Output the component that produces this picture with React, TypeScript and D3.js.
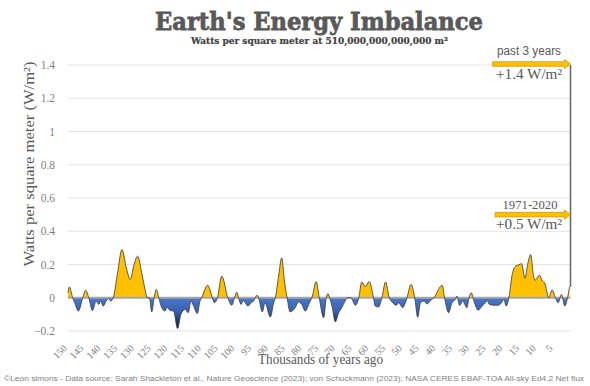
import React from "react";
import * as d3 from "d3";

const kaValues: number[] = [
  150, 149.6, 148.6, 148, 146.9, 145.6, 144.7, 143.8, 142.7, 141.6, 140.8, 140.2, 139.5, 138.5, 137.8, 137.3, 136.5,
  135.2, 133.9, 132.6, 131.4, 130.3, 129.2, 128, 127, 126.3, 125.7, 125, 124.3, 123.6, 122.9, 122, 121, 120.5, 119.5,
  118.5, 117.3, 116.3, 115, 114.1, 113.3, 112.6, 111.4, 110.6, 110.1, 108.3, 106.9, 106.3, 105.4, 104.1, 102.3, 101.1,
  100.3, 99.6, 99.1, 98.3, 97.7, 97.1, 96.3, 95.3, 94.6, 94.1, 93.6, 93.1, 92, 91.2, 89.6, 88.6, 88.1, 87.2, 86.2,
  85.4, 84.6, 83.7, 82.2, 81.2, 80.2, 79.2, 77.7, 77.2, 75.9, 75, 73.7, 72.9, 72.4, 71.9, 71.2, 70.2, 69.2, 68.3,
  67.3, 66.6, 65.6, 64.2, 63.2, 62.3, 61.3, 60.1, 58.8, 58.3, 57.3, 56.3, 55.2, 54.1, 53.3, 52, 51.3, 50.1, 49.3,
  48.8, 47.6, 46.5, 45.6, 44.8, 43.8, 42.8, 41.8, 40.8, 38.3, 37.6, 36.4, 35.4, 34.4, 33.9, 33.1, 32.2, 30.9, 30.4,
  29.6, 29.1, 28.4, 27.6, 26.4, 25.4, 24.9, 24.2, 22.9, 21.6, 20.6, 19.9, 19.2, 18.4, 17.4, 16.4, 15.4, 14.6, 13.6,
  12.8, 11.9, 11.1, 10.6, 9.3, 8.3, 7.7, 6.5, 5.5, 4.5, 3.7, 2.7, 1.7, 1.0, 0.3,
];

const imbalance: number[] = [
  0.03, 0.065, 0, -0.03, -0.08, 0, 0.045, 0, -0.077, -0.02, -0.04, -0.02, -0.05, -0.016, -0.005, -0.02, 0,
  0.15, 0.29, 0.18, 0.11, 0.2, 0.25, 0.15, 0.05, 0, 0, -0.085, 0, 0.05, 0, -0.06, -0.08, -0.057, -0.077,
  -0.08, -0.185, -0.1, -0.07, -0.09, -0.02, -0.045, -0.095, -0.02, 0, 0.075, 0, -0.03, 0, 0.13, 0, -0.045,
  0, 0.033, 0, -0.04, -0.016, -0.03, -0.05, -0.03, -0.02, 0, 0.015, 0, -0.085, -0.03, -0.116, -0.03, 0, 0.12, 0.24,
  0.1, 0, -0.085, -0.06, -0.025, -0.04, -0.08, -0.02, 0, 0.097, 0, -0.12, 0, 0.025, 0, -0.05, -0.145, -0.09, -0.06,
  -0.02, 0, 0, -0.045, 0, 0.095, 0.067, 0.097, 0, -0.05, -0.055, 0, 0.095, 0, -0.025, -0.045, -0.03, -0.06, -0.03,
  0, 0.08, 0, -0.117, -0.03, -0.02, -0.037, -0.016, 0, 0.075, 0, -0.09, -0.03, -0.01, 0.01, -0.047, -0.02, -0.06, -0.01,
  0.03, 0, -0.045, -0.075, -0.05, -0.03, -0.016, -0.04, -0.045, -0.045, -0.03, -0.01, -0.05, 0, 0.14, 0.19, 0.198, 0.205, 0.117,
  0.2, 0.26, 0.14, 0.105, 0.135, 0.1, 0.09, 0, 0.047, 0, -0.03, 0.02, -0.05, -0.01, 0.065,
];

const yTicks: number[] = [-0.2, 0, 0.2, 0.4, 0.6, 0.8, 1, 1.2, 1.4];
const xTicks: number[] = d3.range(150, 0, -5);

const recentLabel = "past 3 years";
const recentValue = 1.4;
const recentText = "+1.4 W/m²";
const periodLabel = "1971-2020";
const periodValue = 0.5;
const periodText = "+0.5 W/m²";

const W = 590;
const H = 386;
const grey = "#595959";

export default function App() {
  const x = d3.scaleLinear().domain([150, 0]).range([68, 570.5]);
  const y = d3.scaleLinear().domain([-0.2, 1.4]).range([331, 65]);
  const data = kaValues.map((k, i) => ({ k, v: imbalance[i] }));
  const y0 = y(0);

  const area = d3
    .area<{ k: number; v: number }>()
    .x((d) => x(d.k))
    .y0(y0)
    .y1((d) => y(d.v))
    .curve(d3.curveMonotoneX);
  const line = d3
    .line<{ k: number; v: number }>()
    .x((d) => x(d.k))
    .y((d) => y(d.v))
    .curve(d3.curveMonotoneX);

  const areaD = area(data) || "";
  const lineD = line(data) || "";
  const last = data[data.length - 1];

  const arrow = (x0: number, x1: number, yc: number) => {
    const bh = 2.3;
    const hh = 4.6;
    const hl = 6;
    return `M${x0},${yc - bh}L${x1 - hl},${yc - bh}L${x1 - hl},${yc - hh}L${x1},${yc}L${x1 - hl},${yc + hh}L${x1 - hl},${yc + bh}L${x0},${yc + bh}Z`;
  };

  const serif = "'Liberation Serif', 'DejaVu Serif', serif";

  return (
    <svg width={W} height={H} style={{ position: "absolute", left: 0, top: 0, background: "#fff" }}>
      <defs>
        <clipPath id="posClip">
          <rect x={0} y={0} width={W} height={y0} />
        </clipPath>
        <clipPath id="negClip">
          <rect x={0} y={y0} width={W} height={H - y0} />
        </clipPath>
        <linearGradient id="blueGrad" gradientUnits="userSpaceOnUse" x1={0} y1={y0} x2={0} y2={y(-0.19)}>
          <stop offset="0" stopColor="#4a78cc" />
          <stop offset="0.45" stopColor="#3560ad" />
          <stop offset="0.75" stopColor="#1b3468" />
          <stop offset="1" stopColor="#050a18" />
        </linearGradient>
      </defs>

      {/* title */}
      <text x={319} y={30} textAnchor="middle" fontFamily="'DejaVu Serif', serif" fontWeight="bold" fontSize={25} fill={grey} stroke={grey} strokeWidth={0.8} textLength={328} lengthAdjust="spacingAndGlyphs">
        Earth's Energy Imbalance
      </text>
      <text x={319.5} y={43.5} textAnchor="middle" fontFamily="'DejaVu Serif', serif" fontWeight="bold" fontSize={9.5} fill="#404040" stroke="#404040" strokeWidth={0.2} textLength={257} lengthAdjust="spacingAndGlyphs">
        Watts per square meter at 510,000,000,000,000 m²
      </text>

      {/* gridlines */}
      {yTicks.filter((t) => t !== 0).map((t) => (
        <line key={t} x1={68} x2={570.5} y1={y(t)} y2={y(t)} stroke="#e3e3e3" strokeWidth={1} />
      ))}

      {/* y tick labels */}
      {yTicks.map((t) => (
        <text key={t} x={55} y={y(t) + 4} textAnchor="end" fontFamily={serif} fontSize={11.5} fill="#7f7f7f">
          {d3.format("~g")(t)}
        </text>
      ))}

      {/* y title */}
      <g transform="translate(34,164) rotate(-90)">
        <text x={0} y={0} textAnchor="middle" fontFamily={serif} fontSize={15} fill={grey} textLength={205} lengthAdjust="spacingAndGlyphs">
          Watts per square meter (W/m²)
        </text>
      </g>

      {/* areas */}
      <path d={areaD} fill="#FFC000" clipPath="url(#posClip)" />
      <path d={areaD} fill="url(#blueGrad)" clipPath="url(#negClip)" />
      <line x1={68} x2={570.5} y1={y0} y2={y0} stroke="#a6a6a6" strokeWidth={1.8} />
      <path d={lineD} fill="none" stroke="#404040" strokeWidth={1} strokeOpacity={0.85} />

      {/* vertical jump to present */}
      <line x1={x(0)} x2={x(0)} y1={y(last.v)} y2={y(recentValue)} stroke="#6b6b6b" strokeWidth={1.6} />

      {/* x tick labels */}
      {xTicks.map((t) => (
        <g key={t} transform={`translate(${x(t) - 0.5},349) rotate(-45)`}>
          <text x={0} y={0} textAnchor="end" fontFamily={serif} fontSize={10} fill="#7f7f7f">
            {String(t)}
          </text>
        </g>
      ))}

      {/* x title */}
      <text x={320.5} y={364} textAnchor="middle" fontFamily={serif} fontSize={15} fill={grey} textLength={125} lengthAdjust="spacingAndGlyphs">
        Thousands of years ago
      </text>

      {/* annotations */}
      <text x={529} y={55} textAnchor="middle" fontFamily="'Liberation Sans', sans-serif" fontSize={12} fill={grey} textLength={64} lengthAdjust="spacingAndGlyphs">
        {recentLabel}
      </text>
      <path d={arrow(492.7, x(0), y(recentValue) - 1)} fill="#FFC000" stroke="#C49400" strokeWidth={0.7} />
      <text x={529} y={78.5} textAnchor="middle" fontFamily={serif} fontSize={14} fill={grey} textLength={66} lengthAdjust="spacingAndGlyphs">
        {recentText}
      </text>

      <text x={530} y={208.5} textAnchor="middle" fontFamily={serif} fontSize={12} fill={grey} textLength={55} lengthAdjust="spacingAndGlyphs">
        {periodLabel}
      </text>
      <path d={arrow(495, x(0), y(periodValue))} fill="#FFC000" stroke="#C49400" strokeWidth={0.7} />
      <text x={529} y={229} textAnchor="middle" fontFamily={serif} fontSize={14} fill={grey} textLength={66} lengthAdjust="spacingAndGlyphs">
        {periodText}
      </text>

      {/* footer */}
      <text x={4} y={381} fontFamily="'Liberation Sans', sans-serif" fontSize={7.8} fill="#7f7f7f" textLength={580} lengthAdjust="spacingAndGlyphs">
        ©Leon simons - Data source: Sarah Shackleton et al., Nature Geoscience (2023); von Schuckmann (2023); NASA CERES EBAF-TOA All-sky Ed4.2 Net flux
      </text>
    </svg>
  );
}
